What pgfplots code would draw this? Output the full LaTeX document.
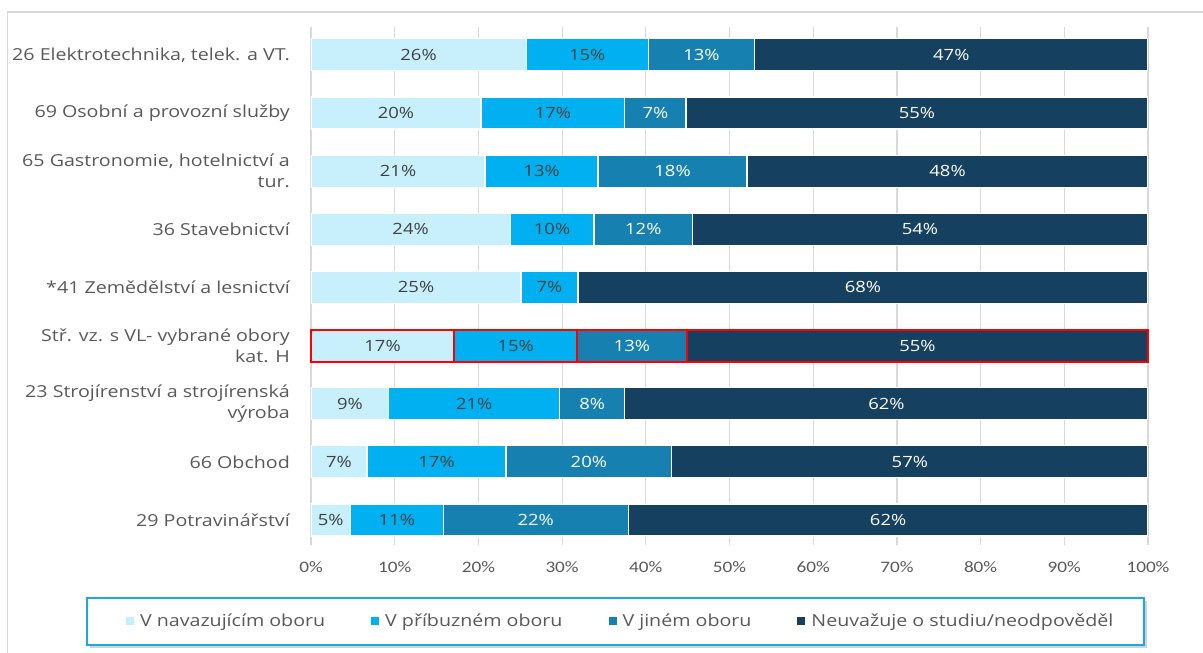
\documentclass[border=0pt]{standalone}
\usepackage{pgfplots}
\pgfplotsset{compat=1.18}
\usepackage{pgfplotstable}
\usepackage{fontspec}
\setmainfont[FakeStretch=1.19]{Open Sans}
\newfontfamily\tickfont[FakeStretch=1.2]{Carlito}
\usetikzlibrary{shadows}
\definecolor{cA}{HTML}{C7EFFC}
\definecolor{cB}{HTML}{00B0F0}
\definecolor{cC}{HTML}{1681B0}
\definecolor{cD}{HTML}{15405F}
\definecolor{txt}{HTML}{404040}
\definecolor{lab}{HTML}{595959}
\definecolor{gridc}{HTML}{D9D9D9}
\definecolor{lgb}{HTML}{1BA9E1}
\definecolor{hl}{HTML}{FF0000}

\pgfplotstableread{
y x lab
8 25.7 26\%
7 20.3 20\%
6 20.8 21\%
5 23.8 24\%
4 25.1 25\%
3 17.1 17\%
2 9.3 9\%
1 6.7 7\%
0 4.7 5\%
}\sA
\pgfplotstableread{
y x lab
8 14.6 15\%
7 17.2 17\%
6 13.5 13\%
5 10.0 10\%
4 6.8 7\%
3 14.7 15\%
2 20.4 21\%
1 16.6 17\%
0 11.1 11\%
}\sB
\pgfplotstableread{
y x lab
8 12.7 13\%
7 7.3 7\%
6 17.8 18\%
5 11.8 12\%
4 0 {}
3 13.1 13\%
2 7.8 8\%
1 19.8 20\%
0 22.1 22\%
}\sC
\pgfplotstableread{
y x lab
8 47.0 47\%
7 55.2 55\%
6 47.9 48\%
5 54.3 54\%
4 68.1 68\%
3 55.1 55\%
2 62.5 62\%
1 56.9 57\%
0 62.1 62\%
}\sD

\begin{document}
\begin{tikzpicture}[x=1pt,y=1pt]
\path[use as bounding box] (0,0) rectangle (1203,653);
\draw[gridc, line width=1.2pt] (7.5,0) -- (7.5,641) -- (1203,641);
\draw[lgb, line width=2pt, fill=white, drop shadow={shadow xshift=3pt, shadow yshift=-3pt, opacity=0.35}] (87,8) rectangle (1144,55);
\pgfplotsset{
  common/.style={
    at={(311pt,108pt)}, anchor=south west,
    scale only axis, width=837pt, height=518pt,
    xbar stacked, bar width=32pt,
    xmin=0, xmax=100, ymin=-0.43, ymax=8.48,
    nodes near coords,
    point meta=explicit symbolic,
    every node near coord/.append style={anchor=center, font=\fontsize{15.5}{18}\selectfont},
  },
}
\begin{axis}[
  common,
  axis line style={draw=none},
  xtick={0,10,...,100},
  xticklabels={0\%,10\%,20\%,30\%,40\%,50\%,60\%,70\%,80\%,90\%,100\%},
  xticklabel style={font=\tickfont\fontsize{16}{18}\selectfont, text=lab, anchor=center, yshift=-22pt},
  xmajorgrids, grid style={gridc, line width=1.2pt},
  major tick length=0pt,
  ytick={0,...,8},
  yticklabels={29 Potravinářství, 66 Obchod, {23 Strojírenství a strojírenská\\výroba}, {Stř. vz. s VL- vybrané obory\\kat. H}, *41 Zemědělství a lesnictví, 36 Stavebnictví, {65 Gastronomie, hotelnictví a\\tur.}, 69 Osobní a provozní služby, {26 Elektrotechnika, telek. a VT.}},
  yticklabel style={align=right, font=\fontsize{16.5}{21}\selectfont, text=lab, inner sep=0pt, xshift=-21pt},
  legend columns=4,
  legend style={draw=none, fill=none, at={(0.370,-0.1467)}, anchor=center, font=\fontsize{16.5}{18}\selectfont, text=lab, /tikz/every odd column/.append style={column sep=4pt}, /tikz/every even column/.append style={column sep=44pt}},
  legend image code/.code={\fill[#1, draw=none] (0pt,-4pt) rectangle (8pt,4pt);},
]
\addplot[fill=cA, draw=white, line width=1.2pt, every node near coord/.append style={text=txt}] table[x=x, y=y, meta=lab] {\sA};
\addplot[fill=cB, draw=white, line width=1.2pt, every node near coord/.append style={text=txt}] table[x=x, y=y, meta=lab] {\sB};
\addplot[fill=cC, draw=white, line width=1.2pt, every node near coord/.append style={text=white}] table[x=x, y=y, meta=lab] {\sC};
\addplot[fill=cD, draw=white, line width=1.2pt, every node near coord/.append style={text=white}] table[x=x, y=y, meta=lab] {\sD};
\legend{V navazujícím oboru, V příbuzném oboru, V jiném oboru, Neuvažuje o studiu/neodpověděl}
\end{axis}
\begin{axis}[common, hide axis, clip=false]
\addplot[fill=cA, draw=hl, line width=2pt, every node near coord/.append style={text=txt}] coordinates {(17.1,3) [17\%]};
\addplot[fill=cB, draw=hl, line width=2pt, every node near coord/.append style={text=txt}] coordinates {(14.7,3) [15\%]};
\addplot[fill=cC, draw=hl, line width=2pt, every node near coord/.append style={text=white}] coordinates {(13.1,3) [13\%]};
\addplot[fill=cD, draw=hl, line width=2pt, every node near coord/.append style={text=white}] coordinates {(55.1,3) [55\%]};
\end{axis}
\end{tikzpicture}
\end{document}
